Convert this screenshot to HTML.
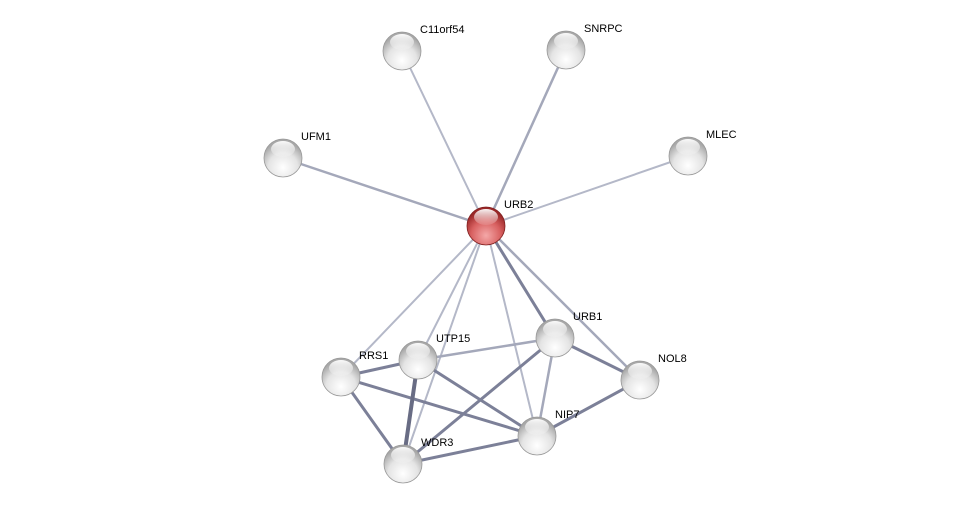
<!DOCTYPE html>
<html><head><style>body{margin:0;background:#fff}svg text{font-family:"Liberation Sans",sans-serif;font-size:11px;fill:#000}</style></head><body>
<svg width="976" height="509" xmlns="http://www.w3.org/2000/svg">
<defs>
<radialGradient id="g" cx="0.5" cy="0.75" r="0.65"><stop offset="0" stop-color="#ffffff"/><stop offset="0.6" stop-color="#e4e4e4"/><stop offset="1" stop-color="#a8a8a8"/></radialGradient>
<radialGradient id="r" cx="0.5" cy="0.75" r="0.65"><stop offset="0" stop-color="#f4a8a8"/><stop offset="0.6" stop-color="#d86060"/><stop offset="1" stop-color="#9a2828"/></radialGradient>
<linearGradient id="h" x1="0" y1="0" x2="0" y2="1"><stop offset="0" stop-color="#fff" stop-opacity="0.95"/><stop offset="1" stop-color="#fff" stop-opacity="0.1"/></linearGradient>
</defs>
<g stroke-linecap="round">
<g stroke="#b4b8c8" stroke-width="2">
<line x1="486" y1="226" x2="402" y2="51"/>
<line x1="486" y1="226" x2="688" y2="156"/>
<line x1="486" y1="226" x2="341" y2="377"/>
<line x1="486" y1="226" x2="418" y2="360"/>
<line x1="486" y1="226" x2="403" y2="464"/>
<line x1="486" y1="226" x2="537" y2="436"/>
</g>
<g stroke="#a4a8ba" stroke-width="2.5">
<line x1="486" y1="226" x2="566" y2="50"/>
<line x1="486" y1="226" x2="283" y2="158"/>
<line x1="486" y1="226" x2="640" y2="380"/>
<line x1="418" y1="360" x2="555" y2="338"/>
</g>
<g stroke="#7c8098" stroke-width="3">
<line x1="486" y1="226" x2="555" y2="338"/>
<line x1="341" y1="377" x2="418" y2="360"/>
<line x1="341" y1="377" x2="537" y2="436"/>
<line x1="341" y1="377" x2="403" y2="464"/>
<line x1="418" y1="360" x2="537" y2="436"/>
<line x1="555" y1="338" x2="403" y2="464"/>
<line x1="555" y1="338" x2="640" y2="380"/>
<line x1="537" y1="436" x2="640" y2="380"/>
<line x1="403" y1="464" x2="537" y2="436"/>
</g>
<line x1="418" y1="360" x2="403" y2="464" stroke="#686c84" stroke-width="4"/>
<line x1="555" y1="338" x2="537" y2="436" stroke="#a4a8ba" stroke-width="2.5"/>
</g>
<g id="n">
<g transform="translate(402,51)"><circle r="19" fill="url(#g)" stroke="#999" stroke-width="0.8"/><ellipse cy="-9" rx="12" ry="8" fill="url(#h)"/></g>
<g transform="translate(566,50)"><circle r="19" fill="url(#g)" stroke="#999" stroke-width="0.8"/><ellipse cy="-9" rx="12" ry="8" fill="url(#h)"/></g>
<g transform="translate(283,158)"><circle r="19" fill="url(#g)" stroke="#999" stroke-width="0.8"/><ellipse cy="-9" rx="12" ry="8" fill="url(#h)"/></g>
<g transform="translate(688,156)"><circle r="19" fill="url(#g)" stroke="#999" stroke-width="0.8"/><ellipse cy="-9" rx="12" ry="8" fill="url(#h)"/></g>
<g transform="translate(486,226)"><circle r="19" fill="url(#r)" stroke="#802020" stroke-width="0.8"/><ellipse cy="-9" rx="12" ry="8" fill="url(#h)"/></g>
<g transform="translate(555,338)"><circle r="19" fill="url(#g)" stroke="#999" stroke-width="0.8"/><ellipse cy="-9" rx="12" ry="8" fill="url(#h)"/></g>
<g transform="translate(640,380)"><circle r="19" fill="url(#g)" stroke="#999" stroke-width="0.8"/><ellipse cy="-9" rx="12" ry="8" fill="url(#h)"/></g>
<g transform="translate(418,360)"><circle r="19" fill="url(#g)" stroke="#999" stroke-width="0.8"/><ellipse cy="-9" rx="12" ry="8" fill="url(#h)"/></g>
<g transform="translate(341,377)"><circle r="19" fill="url(#g)" stroke="#999" stroke-width="0.8"/><ellipse cy="-9" rx="12" ry="8" fill="url(#h)"/></g>
<g transform="translate(537,436)"><circle r="19" fill="url(#g)" stroke="#999" stroke-width="0.8"/><ellipse cy="-9" rx="12" ry="8" fill="url(#h)"/></g>
<g transform="translate(403,464)"><circle r="19" fill="url(#g)" stroke="#999" stroke-width="0.8"/><ellipse cy="-9" rx="12" ry="8" fill="url(#h)"/></g>
</g>
<text x="420" y="33">C11orf54</text>
<text x="584" y="32">SNRPC</text>
<text x="301" y="140">UFM1</text>
<text x="706" y="138">MLEC</text>
<text x="504" y="208">URB2</text>
<text x="573" y="320">URB1</text>
<text x="658" y="362">NOL8</text>
<text x="436" y="342">UTP15</text>
<text x="359" y="359">RRS1</text>
<text x="555" y="418">NIP7</text>
<text x="421" y="446">WDR3</text>
</svg>
</body></html>
